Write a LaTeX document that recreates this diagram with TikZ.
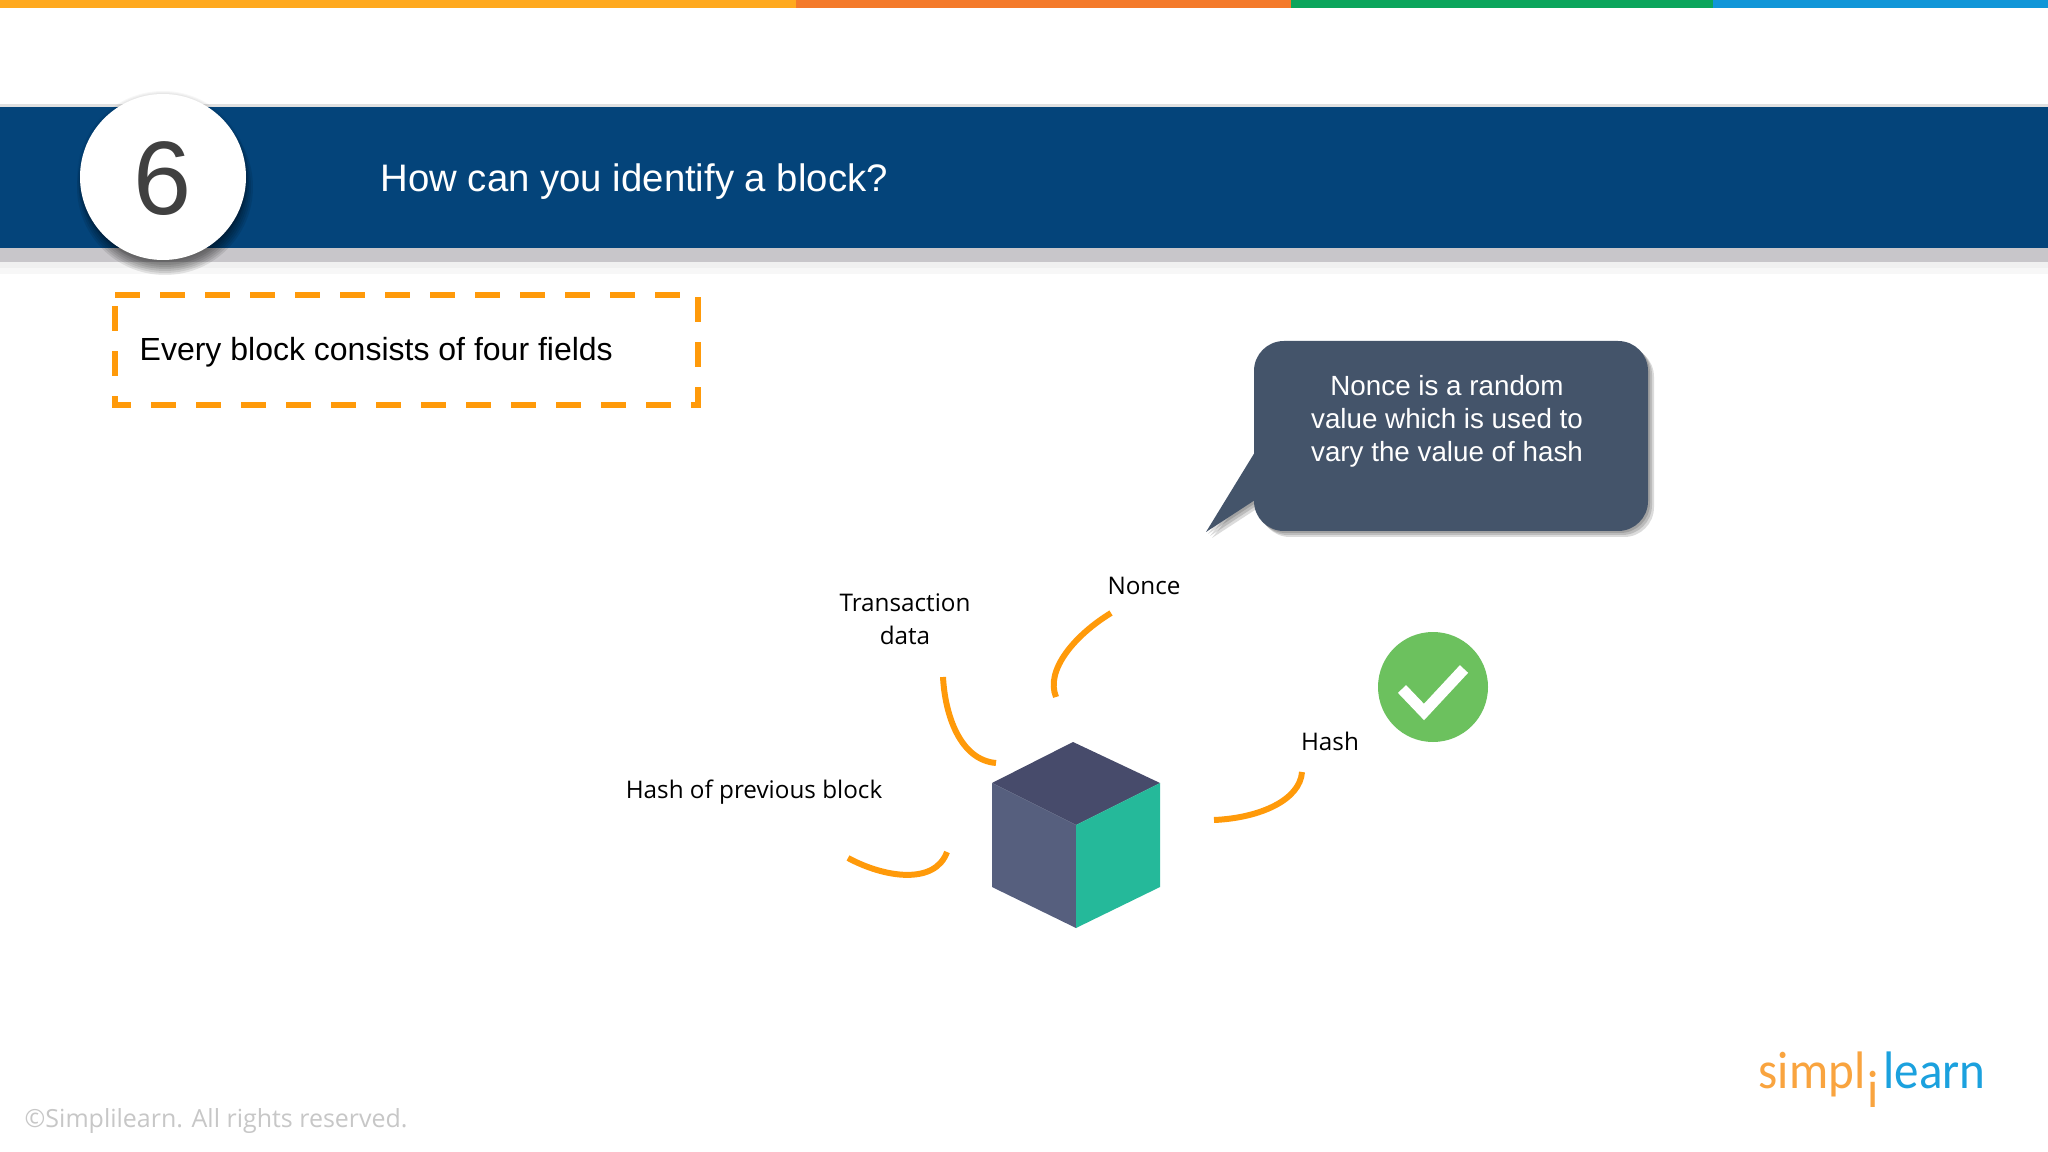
\documentclass[tikz,border=0pt]{standalone}
\usepackage{fontspec}
\setmainfont{Liberation Sans}
\newfontfamily\labelfont{Open Sans}
\newfontfamily\logofont{Carlito}
\usetikzlibrary{positioning}
\definecolor{stripyellow}{HTML}{FFA91E}
\definecolor{striporange}{HTML}{F47A2A}
\definecolor{stripgreen}{HTML}{0BA55C}
\definecolor{stripblue}{HTML}{1196D8}
\definecolor{bandblue}{HTML}{04447A}
\definecolor{bandgrey}{HTML}{C8C6CA}
\definecolor{fieldorange}{HTML}{FF9A0A}
\definecolor{calloutblue}{HTML}{44546A}
\definecolor{cubetop}{HTML}{474B6B}
\definecolor{cubeleft}{HTML}{565F7E}
\definecolor{cuberight}{HTML}{25B99A}
\definecolor{checkgreen}{HTML}{6CC15E}
\definecolor{logoorange}{HTML}{F9A43F}
\definecolor{logoblue}{HTML}{1BA1DE}
\begin{document}
\begin{tikzpicture}[x=0.01cm,y=-0.01cm]
        \tikzstyle{every node}=[inner sep=0pt]
        \tikzstyle{fieldlabel}=[font=\labelfont\fontsize{6.9}{9.4}\selectfont,align=center,text=black]
        \tikzstyle{fieldcurve}=[draw=fieldorange,line width=1.7pt]
        \tikzstyle{logotext}=[font=\logofont\fontsize{15}{15}\selectfont,xscale=0.93,transform shape]
        \useasboundingbox (0,0) rectangle (2048,1152);
        \fill [white] (0,0) rectangle (2048,1152);
        \fill [stripyellow] (0,0) rectangle (796,8);
        \fill [striporange] (796,0) rectangle (1291,8);
        \fill [stripgreen] (1291,0) rectangle (1713,8);
        \fill [stripblue] (1713,0) rectangle (2048,8);
        \fill [black!12] (0,104) rectangle (2048,107);
        \fill [bandblue] (0,107) rectangle (2048,248);
        \fill [bandgrey] (0,248) rectangle (2048,262);
        \fill [black!6] (0,262) rectangle (2048,268);
        \fill [black!3] (0,268) rectangle (2048,274);
        \foreach \r in {84,85,86}
                \fill [black,opacity=0.03] (163,177) circle (\r);
        \foreach \r in {78,80,82,84,86,88}
                \fill [black,opacity=0.09] (165,187) circle (\r);
        \draw [fill=white,draw=none] (163,177) circle (83);
        \node (number) at (163,179) {\fontsize{29.7}{30}\selectfont\color{black!75}6};
        \node [anchor=west,text=white,font=\fontsize{10.9}{13}\selectfont] (title) at (380,182) {How can you identify a block?};
        \draw [fieldorange,line width=1.45pt,dash pattern=on 7.1pt off 5.7pt] (115,295) -- (698,295) -- (698,405) -- (115,405) -- cycle;
        \node [anchor=west,text=black,font=\fontsize{9.1}{11}\selectfont] (fields) at (139,352) {Every block consists of four fields};
        \coordinate (tailtop) at (1255,452);
        \coordinate (tailtip) at (1206,532);
        \coordinate (tailbottom) at (1255,500);
        \foreach \d in {2,4,6} {
                \fill [black,opacity=0.14,rounded corners=8.5pt] (1254+\d,341+\d) rectangle (1648+\d,531+\d);
                \fill [black,opacity=0.14] (1255+\d,500+\d) -- (1206+\d,532+\d) -- (1255+\d,470+\d) -- cycle;
        }
        \fill [calloutblue,rounded corners=8.5pt] (1254,341) rectangle (1648,531);
        \fill [calloutblue] (tailtop) -- (tailtip) -- (tailbottom) -- cycle;
        \node [align=center,text=white,font=\fontsize{7.9}{9.4}\selectfont] (nonceinfo) at (1447,421) {Nonce is a random\\value which is used to\\vary the value of hash};
        \fill [cubetop] (1073,742) -- (1160,783) -- (1076,825) -- (992,783) -- cycle;
        \fill [cubeleft] (992,783) -- (1076,825) -- (1076,928) -- (992,887) -- cycle;
        \fill [cuberight] (1160,783) -- (1160,887) -- (1076,928) -- (1076,825) -- cycle;
        \node [fieldlabel] (transaction) at (905,619) {Transaction\\data};
        \node [fieldlabel] (nonce) at (1144,586) {Nonce};
        \node [fieldlabel] (hash) at (1330,741) {Hash};
        \node [fieldlabel] (previous) at (754,792) {Hash of previous block};
        \coordinate (noncestart) at (1111,613);
        \coordinate (nonceend) at (1056,697);
        \coordinate (transactionstart) at (943,677);
        \coordinate (transactionend) at (996,763);
        \coordinate (hashstart) at (1302,772);
        \coordinate (hashend) at (1214,820);
        \coordinate (previousstart) at (848,858);
        \coordinate (previousend) at (947,852);
        \draw [fieldcurve] (noncestart) .. controls (1075,635) and (1045,670) .. (nonceend);
        \draw [fieldcurve] (transactionstart) .. controls (945,715) and (960,760) .. (transactionend);
        \draw [fieldcurve] (hashstart) .. controls (1300,800) and (1260,818) .. (hashend);
        \draw [fieldcurve] (previousstart) .. controls (885,878) and (935,885) .. (previousend);
        \fill [checkgreen] (1433,687) circle (55);
        \coordinate (checkleft) at (1402,689);
        \coordinate (checkmid) at (1424,712);
        \coordinate (checkright) at (1464,669);
        \draw [white,line width=3.2pt] (checkleft) -- (checkmid) -- (checkright);
        \node [anchor=base west,text=logoorange,logotext] (simpl) at (1758,1088) {simpl};
        \node [anchor=base,text=logoorange,logotext] (logoi) at (1873,1107) {i};
        \node [anchor=base west,text=logoblue,logotext] (learn) at (1883,1088) {learn};
        \node [anchor=west,text=black!22,font=\labelfont\fontsize{7.1}{9}\selectfont] (copyright) at (24,1121) {©Simplilearn. All rights reserved.};
\end{tikzpicture}
\end{document}
